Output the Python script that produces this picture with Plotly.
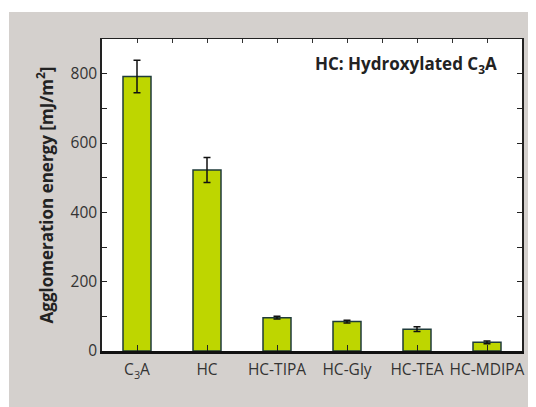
import plotly.graph_objects as go

categories = ["C<sub>3</sub>A", "HC", "HC-TIPA", "HC-Gly", "HC-TEA", "HC-MDIPA"]
energy = [792, 522, 96, 85, 63, 25]
energy_err = [47, 36, 4, 4, 7, 4]
y_ticks = [0, 200, 400, 600, 800]

xpos = list(range(len(categories)))

# figure is drawn inside the page body (8px default margin)
W, H = 528, 399
L, T, R, B = 94, 31, 14, 56
PW, PH = W - L - R, H - T - B

fig = go.Figure()
fig.add_trace(go.Bar(
    x=xpos, y=energy, width=0.4,
    marker=dict(color="#bed600", line=dict(color="#1f3b3b", width=1.5)),
    error_y=dict(type="data", array=energy_err, visible=True,
                 color="#111111", thickness=1.5, width=3.5),
    showlegend=False,
))
fig.add_trace(go.Scatter(x=[xpos[0]], y=[energy[0]], xaxis="x2", mode="markers",
                         marker=dict(opacity=0), showlegend=False, hoverinfo="skip"))

y_font = dict(family="Open Sans, sans-serif", size=15.5, color="#333333")
x_font = dict(family="Open Sans, sans-serif", size=15.5, color="#333333")

fig.update_layout(
    width=W, height=H,
    margin=dict(l=L, r=R, t=T, b=B, pad=0),
    paper_bgcolor="#d4d0cd",
    plot_bgcolor="white",
    font=y_font,
    xaxis=dict(
        range=[-0.5, 5.5], tickvals=xpos, ticktext=categories,
        ticks="inside", ticklen=6, tickwidth=1, tickcolor="#222",
        showline=True, linecolor="#111", linewidth=2.5,
        showgrid=False, zeroline=False, tickfont=x_font,
        ticklabelstandoff=3, tickangle=0, automargin=False,
    ),
    xaxis2=dict(
        overlaying="x", side="top", range=[-0.5, 5.5],
        tickvals=[v / 2 for v in range(0, 11)],
        ticks="inside", ticklen=4, tickwidth=1, tickcolor="#333",
        showticklabels=False, showline=True, linecolor="#222", linewidth=1,
        showgrid=False, zeroline=False,
    ),
    yaxis=dict(
        range=[0, 900], tickvals=y_ticks,
        ticks="inside", ticklen=5, tickwidth=1, tickcolor="#222",
        minor=dict(dtick=100, ticks="inside", ticklen=5, tickwidth=1, tickcolor="#222"),
        showline=True, linecolor="#222", linewidth=1.5, mirror="ticks",
        showgrid=False, zeroline=False, tickfont=y_font, automargin=False,
        title=dict(text="<b>Agglomeration energy [mJ/m<sup>2</sup>]</b>",
                   font=dict(family="Open Sans, sans-serif", size=17, color="#222"),
                   standoff=13),
    ),
    shapes=[
        dict(type="rect", xref="paper", yref="paper", x0=-0.5, x1=1.5,
             y0=(PH + T - 4) / PH, y1=1.5, fillcolor="white", line=dict(width=0), layer="above"),
        dict(type="rect", xref="paper", yref="paper", x0=-0.5, x1=(1 - L) / PW,
             y0=-0.5, y1=1.5, fillcolor="white", line=dict(width=0), layer="above"),
    ],
    annotations=[dict(
        text="<b>HC: Hydroxylated C<sub>3</sub>A</b>", xref="paper", yref="paper",
        x=(491 - L) / PW, y=(PH + T - 56) / PH, xanchor="right", yanchor="middle",
        showarrow=False, font=dict(family="Open Sans, sans-serif", size=17, color="#222"),
    )],
)

fig.write_html("out.html")
